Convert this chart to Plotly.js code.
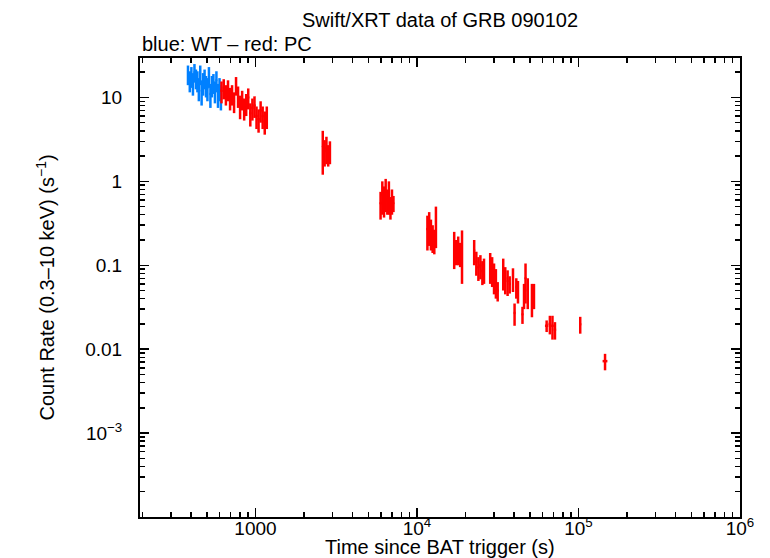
<!DOCTYPE html>
<html>
<head>
<meta charset="utf-8">
<script src="https://cdn.plot.ly/plotly-3.0.1.min.js"></script>
<style>
  html, body { margin: 0; padding: 0; background: #fff; }
  #chart { width: 770px; height: 558px; }
</style>
</head>
<body>
<div id="chart"></div>
<script>
// Swift/XRT light curve of GRB 090102 — WT (blue) and PC (red) modes.

// WT mode (blue): time (s), half bin width (s), rate (s^-1), rate error
const wtTime = [382, 392, 401, 410, 419, 428, 437, 446, 455, 464, 474, 484,
    494, 504, 515, 526, 537, 549, 561, 573, 586, 599, 611];
const wtTimeErr = [5, 5, 4.5, 4.5, 4.5, 4.5, 4.5, 4.5, 4.5, 4.5, 5, 5,
    5, 5, 5.5, 5.5, 5.5, 6, 6, 6, 6.5, 6.5, 6];
const wtRate = [19, 16, 18, 15, 20, 17, 16, 13, 19, 12, 15, 17,
    14, 13, 18, 11, 14, 15, 12, 16, 11, 13, 10.5];
const wtRateErr = [5, 4.5, 5, 4.5, 5, 4.5, 4.5, 4, 5, 4, 4.5, 4.5,
    4, 4, 5, 3.5, 4, 4, 3.5, 4.5, 3.5, 4, 3.5];

// PC mode (red)
const pcTime = [
    616, 636, 656, 676, 696, 716, 737, 758, 780, 803, 827, 851,
    876, 902, 929, 957, 986, 1015, 1045, 1076, 1108, 1141, 1175,
    2610, 2680, 2750, 2820, 2890,
    5950, 6100, 6250, 6400, 6550, 6700, 6850, 7000, 7150,
    11600, 11900, 12200, 12500, 12800, 13100,
    17000, 17500, 18000, 18500, 19000,
    22600, 23300, 24000, 24700, 25400, 26000,
    28400, 29200, 30000, 30800, 31600,
    34200, 35200, 36400, 37500,
    39300, 40200, 41200, 42200,
    45000, 46000, 47000, 48500,
    51500, 53000,
    63500, 66500, 69000, 71500,
    102500,
    146000,
];
const pcTimeErr = [
    10, 10, 10, 10, 10, 10, 10.5, 11, 11, 12, 12, 12,
    12.5, 13, 14, 14, 15, 15, 15, 16, 16, 17, 17,
    30, 35, 35, 35, 35,
    70, 70, 70, 70, 70, 70, 70, 70, 70,
    150, 150, 150, 150, 150, 150,
    250, 250, 250, 250, 250,
    330, 330, 330, 330, 330, 330,
    380, 380, 380, 380, 380,
    480, 480, 480, 480,
    450, 450, 450, 450,
    500, 500, 500, 600,
    600, 600,
    1500, 1200, 1200, 1200,
    1500,
    5000,
];
const pcRate = [
    12, 13, 11, 12.5, 10, 11, 9, 14, 10.5, 8, 9.5, 7.5,
    8.5, 10, 6.5, 7.5, 8, 6, 5.5, 7, 6, 5.2, 6,
    2.6, 2.3, 2.5, 2.1, 2.3,
    0.55, 0.7, 0.62, 0.75, 0.6, 0.7, 0.5, 0.6, 0.55,
    0.27, 0.3, 0.25, 0.22, 0.2, 0.33,
    0.17, 0.15, 0.16, 0.14, 0.16,
    0.15, 0.11, 0.095, 0.1, 0.085, 0.09,
    0.1, 0.09, 0.075, 0.065, 0.05,
    0.085, 0.07, 0.065, 0.06,
    0.07, 0.027, 0.055, 0.05,
    0.026, 0.045, 0.07, 0.05,
    0.042, 0.045,
    0.019, 0.02, 0.019, 0.017,
    0.0198,
    0.0072,
];
const pcRateErr = [
    3.5, 3.5, 3, 3.5, 3, 3, 2.5, 3.5, 3, 2.5, 2.5, 2.2,
    2.5, 2.8, 2, 2.2, 2.3, 1.8, 1.7, 2, 1.8, 1.6, 1.8,
    1.4, 0.8, 0.9, 0.6, 0.7,
    0.2, 0.3, 0.25, 0.32, 0.2, 0.3, 0.15, 0.2, 0.12,
    0.12, 0.13, 0.1, 0.08, 0.065, 0.17,
    0.08, 0.05, 0.06, 0.045, 0.1,
    0.05, 0.035, 0.03, 0.032, 0.027, 0.03,
    0.04, 0.035, 0.03, 0.025, 0.013,
    0.035, 0.025, 0.022, 0.014,
    0.022, 0.008, 0.015, 0.015,
    0.006, 0.015, 0.035, 0.02,
    0.018, 0.015,
    0.003, 0.005, 0.006, 0.004,
    0.0045,
    0.0016,
];

const xTickVals = [1000, 1e4, 1e5, 1e6];
const xTickText = ["1000", "10<sup>4</sup>", "10<sup>5</sup>", "10<sup>6</sup>"];
const yTickVals = [1e-3, 0.01, 0.1, 1, 10];
const yTickText = ["10<sup>\u22123</sup>", "0.01", "0.1", "1", "10"];

const FONT = "'Liberation Sans', Arial, Helvetica, sans-serif";
const WT_COLOR = "#0080ff";
const PC_COLOR = "#ff0000";

// minor ticks at 2..9 of each decade
function minorTicks(lo, hi) {
    const out = [];
    for (let e = lo; e < hi; e++) {
        for (let m = 2; m <= 9; m++) out.push(m * Math.pow(10, e));
    }
    return out;
}

function lcTrace(x, xe, y, ye, color, name) {
    return {
        x: x, y: y, name: name,
        type: "scatter", mode: "markers",
        marker: { size: 2, color: color },
        error_x: { type: "data", array: xe, color: color, thickness: 2.5, width: 0 },
        error_y: { type: "data", array: ye, color: color, thickness: 2.5, width: 0 },
        hoverinfo: "x+y",
    };
}

const traces = [
    lcTrace(wtTime, wtTimeErr, wtRate, wtRateErr, WT_COLOR, "WT"),
    lcTrace(pcTime, pcTimeErr, pcRate, pcRateErr, PC_COLOR, "PC"),
];

const axisCommon = {
    showline: true, linecolor: "#000", linewidth: 2,
    mirror: "allticks", ticks: "inside", ticklen: 9, tickwidth: 1.5,
    tickcolor: "#000", showgrid: false, zeroline: false,
    tickfont: { family: FONT, size: 19, color: "#000" },
};

const layout = {
    width: 770, height: 558,
    paper_bgcolor: "#fff", plot_bgcolor: "#fff",
    margin: { l: 140, r: 30, t: 58, b: 41 },
    showlegend: false,
    font: { family: FONT, color: "#000" },
    xaxis: Object.assign({}, axisCommon, {
        type: "log", range: [2.285, 6],
        tickmode: "array", tickvals: xTickVals, ticktext: xTickText,
        ticklabelstandoff: -7,
        minor: { tickmode: "array", tickvals: minorTicks(2, 6),
            ticks: "inside", ticklen: 5, tickwidth: 1.5, tickcolor: "#000" },
    }),
    yaxis: Object.assign({}, axisCommon, {
        type: "log", range: [-4, 1.47],
        tickmode: "array", tickvals: yTickVals, ticktext: yTickText,
        ticklabelstandoff: 12,
        minor: { tickmode: "array", tickvals: minorTicks(-4, 2),
            ticks: "inside", ticklen: 5, tickwidth: 1.5, tickcolor: "#000" },
    }),
    annotations: [
        { text: "Swift/XRT data of GRB 090102", xref: "paper", yref: "paper",
          x: 0.5, y: 1, yshift: 38, xanchor: "center", yanchor: "middle",
          showarrow: false, font: { family: FONT, size: 20 } },
        { text: "blue: WT \u2013 red: PC", xref: "paper", yref: "paper",
          x: 0, y: 1, yshift: 14, xanchor: "left", yanchor: "middle",
          showarrow: false, font: { family: FONT, size: 20 } },
        { text: "Time since BAT trigger (s)", xref: "paper", yref: "paper",
          x: 0.5, y: 0, yshift: -30, xanchor: "center", yanchor: "middle",
          showarrow: false, font: { family: FONT, size: 20 } },
        { text: "Count Rate (0.3\u201310 keV) (s<sup>\u22121</sup>)", xref: "paper", yref: "paper",
          x: 0, y: 0.5, xshift: -95, xanchor: "center", yanchor: "middle",
          textangle: -90, showarrow: false, font: { family: FONT, size: 20 } },
    ],
};

Plotly.newPlot("chart", traces, layout, { displayModeBar: false, staticPlot: true });
</script>
</body>
</html>
